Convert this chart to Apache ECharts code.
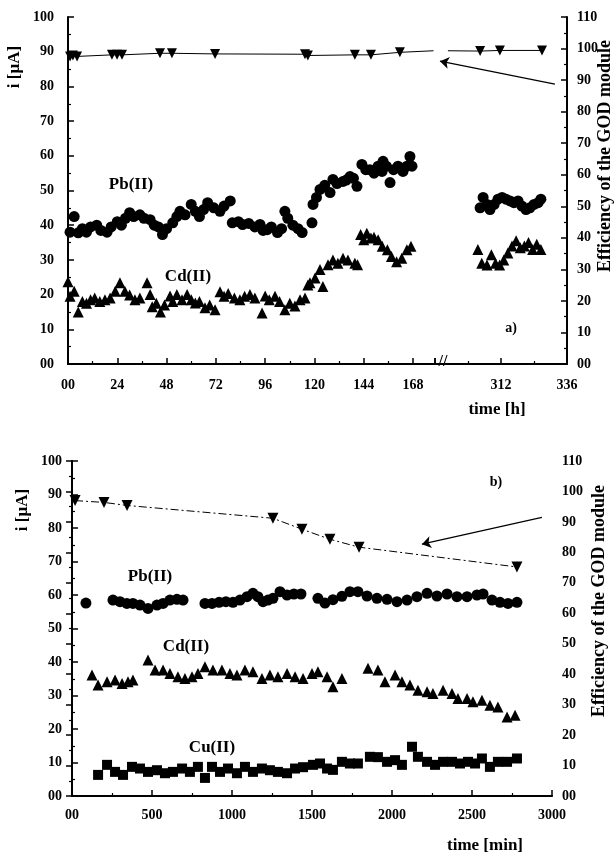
<!DOCTYPE html>
<html>
<head>
<meta charset="utf-8">
<script src="https://cdn.jsdelivr.net/npm/echarts@6/dist/echarts.min.js"></script>
<style>html,body{margin:0;padding:0;background:#fff;}#c{width:615px;height:854px;}</style>
</head>
<body>
<div id="c"></div>
<script>
// ---------- Panel a) : time [h], i [µA] ----------
const aPbLeft = [[1,38],[3,42.5],[5,37.8],[7,39],[9,38],[11,39.5],[14,40],[16,38.5],[19,38],[21,39.5],[24,41],[26,40],[28,42],[30,43.6],[32,42.5],[35,43],[37,42],[40,41.6],[42,40],[44,39.5],[46,37.3],[48,39],[51,40.7],[53,42.5],[54.5,44],[57,43],[60,46],[62,44],[64,42.5],[66,44.5],[68,46.5],[71,45],[74,44],[76,45.5],[79,47],[80,40.7],[83,41],[85,40.2],[88,40.5],[91,39.5],[93.5,40.2],[95,38.5],[97,38.7],[99,39.5],[102,37.9],[104,39],[105.6,44],[107,42],[109.5,40],[112,39],[114,37.9],
  [118.8,40.7],[119.3,46],[121,48],[122.7,50.3],[125,51.5],[127.6,49.4],[129,53.2],[131,52],[133.9,52.6],[135.5,53],[137.3,54],[139,53.5],[140.7,51.2],[143.1,57.5],[145,56],[147,56],[149,55],[151,57],[152.9,55.5],[153.4,58.4],[155,57],[156.8,52.3],[158.5,56],[160.7,57],[163.1,55.5],[165,57],[166.5,59.8],[167.5,57]];
const aCdLeft = [[0,23.7],[1,19.5],[3,21],[5,15],[7,18],[9,17.5],[11,18.5],[13,19],[15.5,18],[18,18.5],[20.5,19],[23,21],[25.3,23.4],[27.7,21],[30,19.9],[32.6,18.5],[35,19],[38.5,23.4],[40,20],[41,16.5],[43,17.5],[45,15],[47,17],[49.7,19.6],[51,18],[53,20],[55.5,18.5],[58,20],[60,18.5],[62,17.6],[64,18],[66.7,16.2],[69,17],[71.6,15.6],[74,20.8],[76,19.5],[78,20.3],[81,19],[83.7,18.5],[86,19.5],[88.6,20],[91,19],[94.5,14.7],[96,19.6],[98,18.5],[100.8,19.5],[103,18],[105.6,15.6],[108,17.5],[110.5,16.7],[113,18.5],[115.4,19],[116.8,22.8],
  [117.8,23.4],[120.3,24.8],[122.7,27.2],[124.1,22.3],[126.6,28.6],[129,30],[131.4,29],[133.9,30.5],[136.3,30],[139.7,29],[141,28.6],[142.5,37.3],[144,35.8],[145.5,37.7],[147.5,36.3],[149,36.5],[151,35.8],[153,33.9],[155.5,32.9],[157.5,31],[160,29.5],[162.5,30.5],[165,32.9],[167,33.9]];
const aEffLeft = [[1,97.5],[2.4,97.8],[4.4,97.5],[21.4,98],[23.9,98],[26.3,98],[44.8,98.5],[50.6,98.5],[71.6,98.3],[115.4,98.2],[116.8,97.8],[139.7,98],[147.5,98],[161.6,98.8]];
const aEffLeftEnd = [178,99.3];
const aPbRight = [[304.4,45],[305.5,48],[306.9,46],[308,44.5],[309.5,46],[310.9,47.5],[312.4,48],[313.8,47.5],[315.3,47],[316.7,46.5],[318.2,47],[319.6,45.5],[321.1,44.5],[322.5,45],[324,46],[325.5,46.5],[326.5,47.5]];
const aCdRight = [[303.6,33],[305,29],[306.9,28.5],[308.5,31.5],[310,29],[311.5,28.5],[313,30],[314.5,32],[316,34],[317.5,35.5],[319,33.5],[320.5,34],[322,35],[323.5,33],[325,34.5],[326.5,33]];
const aEffRightStart = [292.7,99.3];
const aEffRight = [[304.4,99.2],[311.6,99.4],[326.9,99.4]];
const aArrow = [[331.6,88.7],[289.8,96.0]];
const aLeftTicks = [0,24,48,72,96,120,144,168];
const aRightTicks = [312,336];

// ---------- Panel b) : time [min] ----------
const bPb = [[87,57.6],[256,58.5],[300,58],[343,57.5],[381,57.5],[425,57],[475,56],[531,57],[569,57.5],[612,58.5],[656,58.7],[694,58.5],
  [831,57.5],[875,57.5],[919,57.8],[962,58],[1006,57.8],[1050,58.5],[1094,59.5],[1131,60.5],[1162,59.5],[1194,58],[1225,58.5],[1256,59],[1300,61],[1344,60],[1387,60.3],[1431,60.3],
  [1537,59],[1581,57.6],[1631,58.6],[1687,59.6],[1737,61],[1787,61],[1844,59.7],[1906,59],[1969,58.7],[2031,58],[2094,58.5],[2156,59.5],[2219,60.5],[2281,59.7],[2344,60.3],[2406,59.5],[2469,59.5],[2531,60],[2569,60.3],[2625,58.5],[2675,57.8],[2725,57.5],[2781,57.8]];
const bCd = [[125,36.1],[163,33.1],[219,34.1],[269,34.6],[313,33.6],[350,34.1],[381,34.6],[475,40.6],[519,37.6],[569,37.6],[612,36.6],[662,35.6],[706,35.1],[750,35.6],[787,36.6],[831,38.6],[881,37.6],[937,37.6],[987,36.6],[1031,36.1],[1081,37.6],[1131,37.1],[1187,35.1],[1237,36.1],[1287,35.6],[1344,36.6],[1394,35.6],[1444,35.1],[1500,36.6],[1537,37.1],[1594,35.6],[1631,32.6],[1687,35.1],
  [1850,38.1],[1912,37.6],[1956,34.1],[2019,36.1],[2062,34.1],[2112,33.1],[2162,31.6],[2219,31.1],[2256,30.6],[2319,31.6],[2375,30.6],[2412,29.1],[2469,29.1],[2506,28.1],[2562,28.6],[2612,27.1],[2662,26.6],[2719,23.6],[2769,24.1]];
const bCu = [[163,6.3],[219,9.3],[269,7.2],[319,6.3],[375,8.7],[425,8.2],[475,7.2],[531,7.7],[581,6.8],[631,7.2],[688,8.2],[737,7.2],[787,8.7],[831,5.4],[875,8.7],[925,7.2],[975,8.2],[1031,6.8],[1081,8.7],[1131,7.2],[1187,8.2],[1237,7.7],[1287,7.2],[1344,6.8],[1394,8.2],[1444,8.6],[1506,9.3],[1550,9.7],[1594,8.2],[1631,7.8],[1687,10.2],[1737,9.7],[1787,9.7],
  [1862,11.7],[1912,11.6],[1969,10.2],[2019,10.7],[2062,9.3],[2125,14.7],[2162,11.7],[2219,10.2],[2269,9.3],[2319,10.2],[2375,10.2],[2425,9.7],[2475,10.2],[2519,9.7],[2562,11.2],[2612,8.7],[2662,10.2],[2719,10.2],[2781,11.2]];
const bEff = [[19,97],[200,96.4],[344,95.4],[1256,91.2],[1437,87.6],[1612,84.3],[1794,81.7],[2781,75.2]];
const bArrow = [[2937,91.5],[2187,82.7]];

const FONT = 'Liberation Serif';
const zeroFmt = v => (v === 0 ? '00' : String(v));
const lab = (margin, fmt) => ({ show: true, margin: margin, fontFamily: FONT, fontSize: 14, fontWeight: 'bold', color: '#000', formatter: fmt || zeroFmt });
const line2 = { show: true, lineStyle: { color: '#000', width: 2 } };
const tick = { show: true, inside: true, length: 6, lineStyle: { color: '#000', width: 1.5 } };
const minor = { show: true, splitNumber: 2, length: 3, lineStyle: { color: '#000', width: 1.2 } };

function xBottom(grid, min, max, interval, fmt, margin) {
  return { type: 'value', gridIndex: grid, position: 'bottom', min: min, max: max, interval: interval,
    axisLine: line2, axisTick: tick, minorTick: minor, splitLine: { show: false }, axisLabel: lab(margin, fmt) };
}
function xTop(grid, min, max) {
  return { type: 'value', gridIndex: grid, position: 'top', min: min, max: max,
    axisLine: { show: true, lineStyle: { color: '#000', width: 1.5 } }, axisTick: { show: false }, axisLabel: { show: false }, splitLine: { show: false } };
}
function yVis(grid, pos, max, margin) {
  return { type: 'value', gridIndex: grid, position: pos, min: 0, max: max, interval: 10,
    axisLine: line2, axisTick: tick, minorTick: minor, splitLine: { show: false }, axisLabel: lab(margin) };
}
function yHidden(grid, pos, max) {
  return { type: 'value', gridIndex: grid, position: pos, min: 0, max: max, show: false, splitLine: { show: false } };
}
const black = { color: '#000', opacity: 1 };
function scatter(xi, yi, sym, size, data) {
  return { type: 'scatter', xAxisIndex: xi, yAxisIndex: yi, symbol: sym, symbolSize: size, itemStyle: black, data: data, silent: true };
}
function arrow(pts) {
  return { silent: true, symbol: ['none', 'arrow'], symbolSize: 9, label: { show: false },
    itemStyle: { color: '#000' },
    lineStyle: { color: '#000', width: 1.2, type: 'solid', opacity: 1 }, data: [[{ coord: pts[0] }, { coord: pts[1] }]] };
}
function txt(x, y, s, size, rot) {
  return { type: 'text', x: x, y: y, rotation: rot || 0, silent: true,
    style: { text: s, fontFamily: FONT, fontSize: size, fontWeight: 'bold', fill: '#000', align: 'center', verticalAlign: 'middle' } };
}

const chart = echarts.init(document.getElementById('c'), null, { renderer: 'canvas' });
chart.setOption({
  animation: false,
  backgroundColor: '#fff',
  grid: [
    { left: 68, top: 17, width: 367, height: 347 },
    { left: 435, top: 17, width: 132, height: 347 },
    { left: 72, top: 461, width: 480, height: 335 }
  ],
  xAxis: [
    xBottom(0, 0, 178.7, 24, v => (aLeftTicks.indexOf(v) >= 0 ? zeroFmt(v) : ''), 14),
    xTop(0, 0, 178.7),
    xBottom(1, 288, 336, 24, v => (aRightTicks.indexOf(v) >= 0 ? String(v) : ''), 14),
    xTop(1, 288, 336),
    xBottom(2, 0, 3000, 500, null, 12),
    xTop(2, 0, 3000)
  ],
  yAxis: [
    yVis(0, 'left', 100, 14),
    yHidden(0, 'right', 110),
    yVis(1, 'right', 110, 10),
    yHidden(1, 'left', 100),
    yVis(2, 'left', 100, 10),
    yVis(2, 'right', 110, 10)
  ],
  series: [
    scatter(0, 0, 'circle', 11, aPbLeft),
    scatter(0, 0, 'triangle', 11, aCdLeft),
    { type: 'line', xAxisIndex: 0, yAxisIndex: 1, symbol: 'triangle', symbolRotate: 180, symbolSize: 10,
      itemStyle: black, lineStyle: { color: '#000', width: 1 }, silent: true,
      data: aEffLeft.concat([{ value: aEffLeftEnd, symbol: 'none' }]) },
    scatter(2, 3, 'circle', 11, aPbRight),
    scatter(2, 3, 'triangle', 11, aCdRight),
    { type: 'line', xAxisIndex: 2, yAxisIndex: 2, symbol: 'triangle', symbolRotate: 180, symbolSize: 10,
      itemStyle: black, lineStyle: { color: '#000', width: 1 }, silent: true,
      data: [{ value: aEffRightStart, symbol: 'none' }].concat(aEffRight),
      markLine: arrow(aArrow) },
    scatter(4, 4, 'circle', 11, bPb),
    scatter(4, 4, 'triangle', 11, bCd),
    scatter(4, 4, 'rect', 10, bCu),
    { type: 'line', xAxisIndex: 4, yAxisIndex: 5, symbol: 'triangle', symbolRotate: 180, symbolSize: 11,
      itemStyle: black, lineStyle: { color: '#000', width: 1, type: [8, 3, 2, 3] }, silent: true,
      data: bEff, markLine: arrow(bArrow) }
  ],
  graphic: [
    txt(15, 67, 'i [µA]', 17, Math.PI / 2),
    txt(605, 156, 'Efficiency of the GOD module', 18, Math.PI / 2),
    txt(497, 410, 'time [h]', 17),
    txt(131, 185, 'Pb(II)', 17),
    txt(188, 277, 'Cd(II)', 17),
    txt(511, 328, 'a)', 14),
    txt(443, 362, '//', 16),
    txt(23, 510, 'i [µA]', 17, Math.PI / 2),
    txt(599, 601, 'Efficiency of the GOD module', 18, Math.PI / 2),
    txt(485, 846, 'time [min]', 17),
    txt(150, 577, 'Pb(II)', 17),
    txt(186, 647, 'Cd(II)', 17),
    txt(212, 748, 'Cu(II)', 17),
    txt(496, 482, 'b)', 14)
  ]
});
</script>
</body>
</html>
